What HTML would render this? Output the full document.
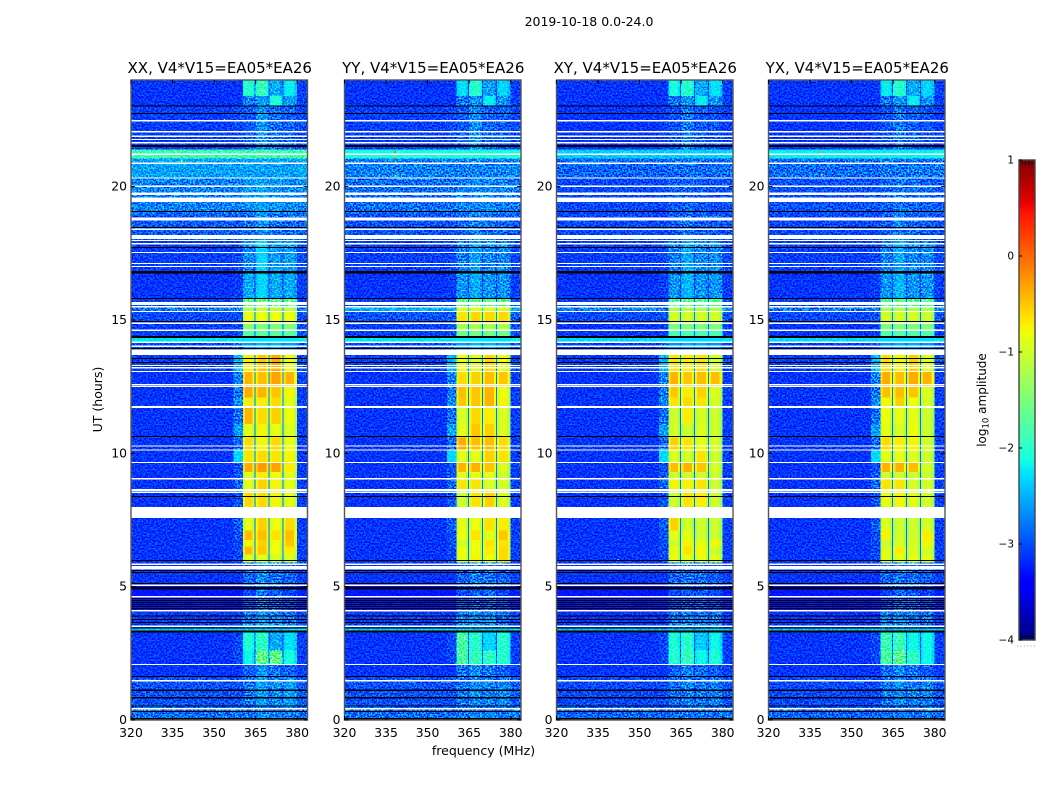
<!DOCTYPE html>
<html lang="en">
<head>
<meta charset="utf-8">
<title>2019-10-18 spectrogram</title>
<style>
html,body{margin:0;padding:0;background:#fff;}
svg{display:block;}
text{font-family:"DejaVu Sans","Liberation Sans",sans-serif;fill:#000;}
</style>
</head>
<body>
<svg id="chart" width="1050" height="800" viewBox="0 0 1050 800" xmlns="http://www.w3.org/2000/svg">
  <defs>
    <filter id="speckle" x="0" y="0" width="100%" height="100%" color-interpolation-filters="sRGB">
      <feTurbulence type="fractalNoise" baseFrequency="0.62" numOctaves="1" seed="7"/>
      <feColorMatrix type="matrix" values="3.4 0 0 0 -1.25  3.4 0 0 0 -1.25  3.4 0 0 0 -1.25  0 0 0 0 1"/>
    </filter>
  </defs>
  <text x="589" y="26" font-size="12.5" text-anchor="middle">2019-10-18 0.0-24.0</text>
  <g id="panels"></g>
  <text x="483.5" y="755" font-size="12.5" text-anchor="middle">frequency (MHz)</text>
  <text transform="translate(102 399.5) rotate(-90)" font-size="12.5" text-anchor="middle">UT (hours)</text>
  <g id="colorbar"></g>
  <text transform="translate(986 400) rotate(-90)" font-size="12" text-anchor="middle">log<tspan font-size="8.5" dy="2.5">10</tspan><tspan dy="-2.5"> amplitude</tspan></text>
  <line x1="1017" y1="646" x2="1036" y2="646" stroke="#999" stroke-width="1" stroke-dasharray="1 2.4"/>
</svg>
<script>
const panelTitles = ['XX, V4*V15=EA05*EA26', 'YY, V4*V15=EA05*EA26', 'XY, V4*V15=EA05*EA26', 'YX, V4*V15=EA05*EA26'];
const freqTicks = [320, 335, 350, 365, 380];
const utTicks = [0, 5, 10, 15, 20];
const colorbarTicks = [1, 0, -1, -2, -3, -4];

/* UT hours bounding each row of amplitudes */
const utEdges = [0,0.5,1.6,2.1,2.6,3.28,3.43,4.05,5.1,5.9,6.2,6.5,6.75,7.1,8,8.6,9.07,9.3,9.65,10.1,10.6,11.1,11.7,12.1,12.5,13.05,13.69,14.14,14.32,14.65,14.9,15.3,15.5,15.8,16.8,18,19,20.3,21.05,21.4,23,23.4,24];

/* log10 amplitude away from the active band, one value per UT row */
const backgroundXX = [-2.8,-2.95,-3.1,-3.1,-3.1,-2.35,-3.05,-3.25,-3.1,-3.1,-3.1,-3.1,-3.1,-3.1,-3.1,-3.1,-3.1,-3.1,-3.1,-3.1,-3.1,-3.1,-3.1,-3.1,-3.1,-3.05,-3,-2.25,-3.05,-3.05,-3,-2.75,-3.05,-3.1,-3.05,-2.9,-2.7,-2.55,-1.85,-3.05,-3.1,-3.1];
const backgroundYY = [-2.8,-2.95,-3.1,-3.1,-3.1,-2.35,-3.05,-3.25,-3.1,-3.1,-3.1,-3.1,-3.1,-3.1,-3.1,-3.1,-3.1,-3.1,-3.1,-3.1,-3.1,-3.1,-3.1,-3.1,-3.1,-3.05,-3,-2.25,-3.05,-3.05,-2.95,-2.5,-3.05,-3.1,-3.05,-2.95,-2.8,-2.7,-2.1,-3.05,-3.1,-3.1];
const backgroundXY = [-2.85,-3,-3.1,-3.1,-3.1,-2.4,-3.1,-3.25,-3.1,-3.1,-3.1,-3.1,-3.1,-3.1,-3.1,-3.1,-3.1,-3.1,-3.1,-3.1,-3.1,-3.1,-3.1,-3.1,-3.1,-3.05,-3.05,-2.3,-3.1,-3.1,-3,-2.7,-3.05,-3.1,-3.05,-3,-3,-2.85,-2.35,-3.1,-3.1,-3.1];
const backgroundYX = [-2.85,-3,-3.1,-3.1,-3.1,-2.4,-3.1,-3.25,-3.1,-3.1,-3.1,-3.1,-3.1,-3.1,-3.1,-3.1,-3.1,-3.1,-3.1,-3.1,-3.1,-3.1,-3.1,-3.1,-3.1,-3.05,-3.05,-2.3,-3.1,-3.1,-3,-2.75,-3.05,-3.1,-3.05,-3,-2.95,-2.8,-2.2,-3.1,-3.1,-3.1];

/* shoulder just below the band (357-360 MHz), one value per UT row */
const shoulderLevels = [-3,-3,-3.1,-3,-3,-2.35,-3.05,-3.25,-3.1,-3,-3,-3,-2.95,-2.9,-2.95,-2.85,-2.9,-2.95,-2.3,-2.85,-2.55,-2.8,-2.65,-2.75,-2.7,-2.45,-2.85,-2.25,-3,-3,-2.95,-2.75,-3,-3.05,-3,-2.9,-2.7,-2.55,-1.85,-3,-3.1,-3.1];

/* four 5 MHz windows (360-365, 365-370, 370-375, 375-380) per UT row */
const windowsXX = [[-2.75,-2.65,-2.7,-2.7],[-2.75,-2.55,-2.65,-2.55],[-2.85,-2.6,-2.75,-2.85],[-2.15,-1.6,-1.6,-2.1],[-2.05,-1.95,-2.5,-2.25],[-2.35,-2.35,-2.35,-2.35],[-2.7,-2.55,-2.65,-2.75],[-3,-2.75,-2.85,-3],[-2.85,-2.65,-2.75,-2.85],[-0.9,-0.9,-0.95,-0.9],[-0.45,-0.5,-0.8,-0.7],[-0.75,-0.55,-0.8,-0.5],[-0.45,-0.45,-0.65,-0.45],[-0.85,-0.55,-0.8,-0.6],[-0.6,-0.6,-0.75,-0.85],[-0.85,-0.55,-0.75,-0.85],[-0.85,-0.7,-0.8,-0.85],[-0.35,-0.25,-0.3,-0.7],[-0.65,-0.6,-0.65,-0.75],[-0.6,-0.75,-0.6,-0.8],[-0.85,-0.75,-0.85,-0.9],[-0.4,-0.6,-0.55,-0.8],[-0.7,-0.7,-0.6,-0.85],[-0.35,-0.4,-0.5,-0.75],[-0.4,-0.45,-0.3,-0.4],[-0.7,-0.5,-0.35,-0.8],[-2.6,-2.5,-2.5,-2.6],[-2.25,-2.25,-2.25,-2.25],[-1.7,-1.7,-1.7,-1.7],[-1.4,-1.45,-1.45,-1.45],[-0.8,-0.8,-0.8,-0.8],[-1.1,-1.05,-1.1,-1.1],[-1.6,-1.5,-1.6,-1.6],[-2.5,-2.3,-2.5,-2.5],[-2.65,-2.3,-2.55,-2.55],[-2.8,-2.6,-2.75,-2.8],[-2.6,-2.55,-2.6,-2.65],[-2.55,-2.55,-2.55,-2.55],[-1.85,-1.85,-1.85,-1.85],[-2.9,-2.6,-2.8,-2.85],[-2.7,-2.55,-2.05,-2.55],[-2,-1.9,-2.5,-2.2]];
const windowsYY = [[-2.75,-2.7,-2.7,-2.7],[-2.75,-2.65,-2.7,-2.65],[-2.75,-2.65,-2.75,-2.85],[-1.75,-1.9,-1.95,-2],[-1.75,-2,-2.3,-2],[-2.35,-2.35,-2.35,-2.35],[-2.65,-2.6,-2.65,-2.75],[-2.95,-2.85,-2.85,-3],[-2.85,-2.7,-2.75,-2.85],[-0.85,-0.75,-0.8,-0.6],[-0.8,-0.8,-0.7,-0.6],[-0.95,-0.8,-0.65,-0.65],[-0.8,-0.65,-0.85,-0.5],[-0.85,-0.8,-0.65,-0.7],[-1,-0.65,-0.55,-0.9],[-0.65,-0.65,-0.9,-0.95],[-0.85,-0.85,-0.85,-1],[-0.4,-0.4,-0.5,-0.9],[-0.85,-0.85,-0.55,-0.65],[-0.35,-0.45,-0.45,-0.6],[-0.85,-0.5,-0.55,-0.9],[-0.9,-0.6,-0.7,-0.9],[-0.5,-0.5,-0.4,-0.75],[-0.45,-0.5,-0.4,-0.8],[-0.6,-0.55,-0.45,-0.5],[-0.8,-0.9,-0.6,-0.8],[-2.6,-2.5,-2.5,-2.6],[-2.25,-2.25,-2.25,-2.25],[-1.55,-1.55,-1.55,-1.55],[-1.2,-1.2,-1.2,-1.2],[-0.65,-0.6,-0.6,-0.6],[-0.9,-0.9,-0.9,-0.95],[-1.6,-1.6,-1.6,-1.6],[-2.6,-2.5,-2.6,-2.6],[-2.7,-2.55,-2.65,-2.65],[-2.85,-2.7,-2.8,-2.85],[-2.7,-2.65,-2.65,-2.7],[-2.7,-2.7,-2.7,-2.7],[-2.1,-2.1,-2.1,-2.1],[-2.9,-2.65,-2.85,-2.9],[-2.75,-2.6,-2.2,-2.6],[-2.25,-2,-2.55,-2.3]];
const windowsXY = [[-2.8,-2.75,-2.75,-2.75],[-2.8,-2.7,-2.75,-2.7],[-2.85,-2.7,-2.8,-2.9],[-2,-1.9,-2.15,-2.05],[-2.05,-2,-2.35,-2.15],[-2.4,-2.4,-2.4,-2.4],[-2.7,-2.65,-2.7,-2.75],[-3,-2.9,-2.9,-3],[-2.85,-2.75,-2.8,-2.9],[-0.85,-0.85,-0.85,-0.85],[-0.85,-0.65,-0.75,-1],[-1,-0.75,-0.85,-0.75],[-0.85,-0.85,-1,-1],[-0.55,-1,-1,-1],[-1,-0.65,-0.7,-1],[-0.75,-0.75,-0.65,-1],[-1,-1,-1,-1],[-0.45,-0.4,-0.5,-0.95],[-0.9,-0.95,-0.65,-1],[-0.55,-0.65,-0.85,-0.95],[-0.95,-1,-0.9,-1],[-1,-0.7,-0.95,-1],[-0.65,-0.6,-0.65,-0.95],[-0.5,-0.7,-0.55,-0.9],[-0.4,-0.5,-0.45,-0.45],[-0.65,-0.7,-0.65,-0.95],[-2.65,-2.55,-2.55,-2.65],[-2.3,-2.3,-2.3,-2.3],[-1.8,-1.8,-1.8,-1.8],[-1.45,-1.45,-1.45,-1.45],[-0.95,-0.95,-0.95,-0.95],[-1.2,-1.2,-1.2,-1.2],[-1.7,-1.65,-1.7,-1.7],[-2.6,-2.45,-2.6,-2.6],[-2.7,-2.5,-2.65,-2.65],[-2.9,-2.75,-2.85,-2.9],[-2.9,-2.85,-2.9,-2.95],[-2.8,-2.8,-2.8,-2.8],[-2.35,-2.35,-2.35,-2.35],[-2.95,-2.75,-2.9,-2.95],[-2.75,-2.6,-2.2,-2.6],[-2.1,-2,-2.5,-2.25]];
const windowsYX = [[-2.8,-2.75,-2.75,-2.75],[-2.75,-2.65,-2.7,-2.7],[-2.8,-2.65,-2.75,-2.9],[-1.75,-1.65,-1.95,-2.15],[-1.85,-1.9,-2.15,-2.15],[-2.4,-2.4,-2.4,-2.4],[-2.65,-2.65,-2.7,-2.75],[-3,-2.85,-2.9,-3],[-2.85,-2.75,-2.8,-2.9],[-0.85,-0.85,-0.85,-0.85],[-0.9,-0.7,-0.95,-0.95],[-1,-0.95,-0.95,-0.75],[-0.75,-1,-1,-0.7],[-0.9,-1,-1,-0.95],[-0.8,-0.75,-0.85,-0.95],[-0.65,-0.65,-0.95,-0.95],[-1,-1,-1,-1],[-0.4,-0.4,-0.45,-0.95],[-0.85,-0.85,-0.9,-1],[-0.6,-0.7,-0.75,-0.95],[-0.85,-0.95,-0.8,-1],[-0.8,-0.85,-0.85,-1],[-0.75,-0.55,-0.8,-0.95],[-0.45,-0.45,-0.5,-0.9],[-0.35,-0.45,-0.35,-0.4],[-0.6,-0.75,-0.55,-0.9],[-2.65,-2.55,-2.55,-2.65],[-2.3,-2.3,-2.3,-2.3],[-1.75,-1.75,-1.75,-1.75],[-1.45,-1.45,-1.45,-1.45],[-0.95,-0.95,-0.95,-1],[-1.2,-1.2,-1.2,-1.2],[-1.7,-1.65,-1.7,-1.7],[-2.6,-2.45,-2.6,-2.6],[-2.7,-2.5,-2.65,-2.65],[-2.9,-2.7,-2.85,-2.9],[-2.85,-2.75,-2.8,-2.85],[-2.75,-2.75,-2.75,-2.75],[-2.2,-2.2,-2.2,-2.2],[-2.95,-2.75,-2.9,-2.95],[-2.75,-2.6,-2.2,-2.6],[-2.2,-2,-2.5,-2.3]];

/* flagged (blank) and zero-amplitude time ranges, UT hours */
const flaggedRanges = [[22.44,22.5],[22.03,22.08],[21.86,21.92],[21.74,21.79],[21.62,21.67],[21.19,21.24],[20.85,20.9],[20.3,20.34],[19.99,20.04],[19.69,19.78],[19.42,19.59],[18.72,18.84],[18.37,18.43],[18.03,18.19],[17.96,18],[17.83,17.89],[17.51,17.55],[17.1,17.14],[16.99,17.03],[15.56,15.67],[15.47,15.53],[15.3,15.34],[14.85,14.9],[14.59,14.64],[14.14,14.2],[13.99,14.04],[13.69,13.89],[13.27,13.31],[13.18,13.24],[13.05,13.09],[12.56,12.6],[12.49,12.54],[11.7,11.77],[10.25,10.3],[10.1,10.15],[9.64,9.67],[9.02,9.07],[8.57,8.66],[8.51,8.55],[7.57,7.99],[5.81,5.87],[5.64,5.77],[5.02,5.08],[4.59,4.65],[4.07,4.12],[3.49,3.54],[2.06,2.1],[1.44,1.5],[0.39,0.45]];
const zeroRanges = [[23,23.04],[22.72,22.76],[21.49,21.56],[19.05,19.09],[18.45,18.48],[17.7,17.74],[16.74,16.83],[15.79,15.82],[14.92,14.96],[14.32,14.4],[13.91,13.95],[13.54,13.57],[13.39,13.42],[10.61,10.65],[8.36,8.4],[5.96,6],[5.59,5.62],[5.51,5.55],[5.1,5.14],[4.89,4.98],[4.54,4.57],[4.46,4.5],[4.39,4.43],[4.31,4.35],[4.24,4.28],[4.16,4.2],[3.88,3.92],[3.75,3.79],[3.64,3.67],[3.43,3.47],[3.28,3.36],[1.61,1.65],[1.09,1.14],[0.81,0.86],[0.51,0.54],[0.3,0.34],[0,0.07]];

/* isolated interference spikes: [UT, MHz, log10 amplitude] */
const spikesXX = [[22.5,353.5,-0.8],[21.2,347,-0.7],[21.3,336,-0.8],[21.25,367,-0.7],[20.95,338,-1.1]];
const spikesYY = [[21.3,338,0.1],[21.1,338,-0.4],[20.4,338,-1]];
const spikesXY = [[21.2,338,-0.7],[21.25,344,-1],[6,342,-0.5]];
const spikesYX = [[21.2,338.5,-0.5],[21.3,339,-0.3],[20.45,339,-0.8],[6,342,0]];

const panelBackgrounds = [backgroundXX, backgroundYY, backgroundXY, backgroundYX];
const panelWindows = [windowsXX, windowsYY, windowsXY, windowsYX];
const panelSpikes = [spikesXX, spikesYY, spikesXY, spikesYX];

const NS = 'http://www.w3.org/2000/svg';
const panelLefts = [131, 344.5, 556.5, 768.5];
const panelWidth = 176.5;
const xScale = (left, mhz) => left + (mhz - 320) * 2.77;
const yScale = hours => 720 - hours * 26.67;
const cbarScale = level => 160 + (1 - level) * 96;

function interp(stops, v) {
  for (let i = 1; i < stops.length; i++) {
    if (v <= stops[i][0]) {
      const a = stops[i - 1], b = stops[i];
      return a[1] + (b[1] - a[1]) * (v - a[0]) / (b[0] - a[0]);
    }
  }
  return stops[stops.length - 1][1];
}
const jetR = [[0,0],[0.35,0],[0.66,1],[0.89,1],[1,0.5]];
const jetG = [[0,0],[0.125,0],[0.375,1],[0.64,1],[0.91,0],[1,0]];
const jetB = [[0,0.5],[0.11,1],[0.34,1],[0.65,0],[1,0]];
function colorOf(level) {
  const v = Math.max(0, Math.min(1, (level + 4) / 5));
  const c = s => Math.round(255 * interp(s, v));
  return 'rgb(' + c(jetR) + ',' + c(jetG) + ',' + c(jetB) + ')';
}
function make(tag, attrs, parent) {
  const el = document.createElementNS(NS, tag);
  for (const k in attrs) el.setAttribute(k, attrs[k]);
  parent.appendChild(el);
  return el;
}
function addCell(group, left, f0, f1, t0, t1, level) {
  const x0 = xScale(left, f0), x1 = Math.min(left + panelWidth, xScale(left, f1));
  const y0 = yScale(t1), y1 = yScale(t0);
  const cell = make('rect', {x: x0, y: y0, width: x1 - x0, height: y1 - y0, fill: colorOf(level)}, group);
  
  
}

const panelsRoot = document.getElementById('panels');
panelTitles.forEach((title, p) => {
  const left = panelLefts[p];
  const panel = make('g', {}, panelsRoot);
  
  

  const cells = make('g', {'shape-rendering': 'crispEdges'}, panel);
  
  

  for (let r = 0; r < utEdges.length - 1; r++) {
    const t0 = utEdges[r], t1 = utEdges[r + 1];
    const bg = panelBackgrounds[p][r];
    const wins = panelWindows[p][r];
    const shoulder = Math.max(bg, shoulderLevels[r] + (bg - panelBackgrounds[0][r]));
    addCell(cells, left, 320, 357, t0, t1, bg);
    addCell(cells, left, 357, 360.4, t0, t1, shoulder);
    wins.forEach((w, i) => {
      const start = 360.4 + i * 5 - (i ? 0.4 : 0);
      const end = 360 + (i + 1) * 5;
      addCell(cells, left, start, start + 0.8, t0, t1, bg + (w - bg) * 0.9);
      addCell(cells, left, start + 0.8, end - 1.1, t0, t1, w);
      addCell(cells, left, end - 1.1, end - 0.35, t0, t1, bg + (w - bg) * 0.85);
      if (i < 3) addCell(cells, left, end - 0.35, end + 0.35, t0, t1, bg + (w - bg) * 0.12);
      else addCell(cells, left, end - 0.35, end, t0, t1, bg + (w - bg) * 0.85);
    });
    addCell(cells, left, 380, 384, t0, t1, bg + 0.05);
  }

  /* speckle covers the noise floor; strong band cells stay smooth */
  const activeBottom = yScale(15.5), activeHeight = (15.5 - 5.9) * 26.67;
  [[left, 80, panelWidth, activeBottom - 80],
   [left, activeBottom + activeHeight, panelWidth, 720 - activeBottom - activeHeight],
   [left, activeBottom, xScale(left, 360.4) - left, activeHeight],
   [xScale(left, 380), activeBottom, left + panelWidth - xScale(left, 380), activeHeight]].forEach(z => {
    const noise = make('rect', {x: z[0], y: z[1], width: z[2], height: z[3], filter: 'url(#speckle)', style: 'mix-blend-mode:overlay'}, panel);
    
    
  });

  panelSpikes[p].forEach(s => {
    const spike = make('rect', {x: xScale(left, s[1]), y: yScale(s[0]) - 1, width: 1.5, height: 2, fill: colorOf(s[2])}, panel);
    
    
  });

  flaggedRanges.forEach(range => {
    const flag = make('rect', {x: left, y: yScale(range[1]), width: panelWidth, height: (range[1] - range[0]) * 26.67, fill: '#fff', 'shape-rendering': 'crispEdges'}, panel);
    
    
  });
  zeroRanges.forEach(range => {
    const zero = make('rect', {x: left, y: yScale(range[1]), width: panelWidth, height: (range[1] - range[0]) * 26.67, fill: '#000', 'shape-rendering': 'crispEdges'}, panel);
    
    
  });

  const frame = make('rect', {x: left, y: 80, width: panelWidth, height: 640, fill: 'none', stroke: '#555', 'stroke-width': 1.4}, panel);
  
  

  freqTicks.forEach(f => {
    const x = xScale(left, f);
    const tickB = make('line', {x1: x, x2: x, y1: 720, y2: 716, stroke: '#000'}, panel);
    
    
    const tickT = make('line', {x1: x, x2: x, y1: 80, y2: 84, stroke: '#000'}, panel);
    
    
    const label = make('text', {x: x, y: 737, 'font-size': 12.4, 'text-anchor': 'middle'}, panel);
    label.textContent = String(f);
    
    
  });
  utTicks.forEach(t => {
    const y = yScale(t);
    const tickL = make('line', {x1: left, x2: left + 4, y1: y, y2: y, stroke: '#000'}, panel);
    
    
    const tickR = make('line', {x1: left + panelWidth, x2: left + panelWidth - 4, y1: y, y2: y, stroke: '#000'}, panel);
    
    
    const label = make('text', {x: left - 4, y: y + 4, 'font-size': 12.4, 'text-anchor': 'end'}, panel);
    label.textContent = String(t);
    
    
  });

  const heading = make('text', {x: left + panelWidth / 2 + 0.5, y: 73, 'font-size': 15, 'text-anchor': 'middle'}, panel);
  heading.textContent = title;
  
  
});

const cbar = document.getElementById('colorbar');
const cbarLeft = 1019, cbarWidth = 16;
for (let level = -4; level < 1; level += 0.02) {
  const band = make('rect', {x: cbarLeft, y: cbarScale(level + 0.02), width: cbarWidth, height: 2, fill: colorOf(level + 0.01), 'shape-rendering': 'crispEdges'}, cbar);
  
  
}
[1022, 1025.5, 1029, 1032].forEach(x => {
  const tickTop = make('line', {x1: x, x2: x, y1: 160, y2: 165, stroke: '#000', 'stroke-width': 0.9}, cbar);
  
  
  const tickBottom = make('line', {x1: x, x2: x, y1: 640, y2: 635, stroke: '#000', 'stroke-width': 0.9}, cbar);
  
  
});
const cbarFrame = make('rect', {x: cbarLeft, y: 160, width: cbarWidth, height: 480, fill: 'none', stroke: '#444', 'stroke-width': 1.4}, cbar);


colorbarTicks.forEach(level => {
  const y = cbarScale(level);
  const tick = make('line', {x1: cbarLeft, x2: cbarLeft + 3, y1: y, y2: y, stroke: '#000'}, cbar);
  
  
  const label = make('text', {x: cbarLeft - 5, y: y + 3.5, 'font-size': 10.5, 'text-anchor': 'end'}, cbar);
  label.textContent = String(level).replace('-', '\u2212');
  
  
});
</script>
</body>
</html>
